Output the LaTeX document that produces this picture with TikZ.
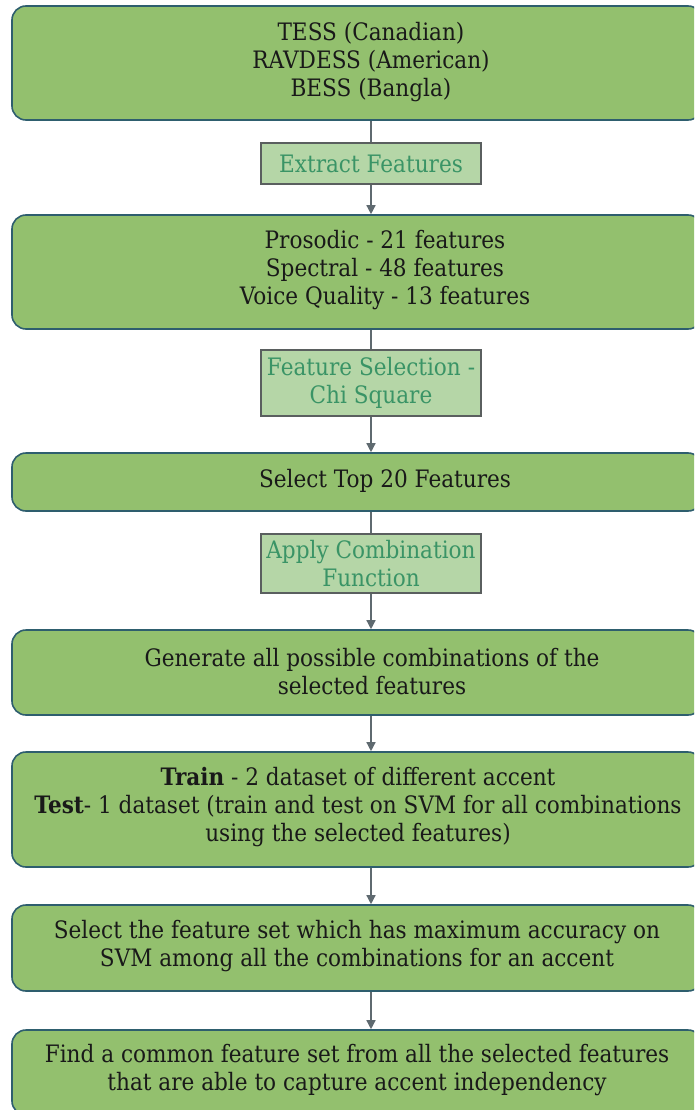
\documentclass[tikz,border=0pt]{standalone}
\usepackage{fontspec}
\setmainfont{DejaVu Serif}[FakeStretch=0.9]
\usetikzlibrary{positioning, arrows.meta}
\definecolor{boxgreen}{HTML}{93C06E}
\definecolor{boxedge}{HTML}{2E5E6E}
\definecolor{tagfill}{HTML}{B5D6A7}
\definecolor{tagedge}{HTML}{5A5F5F}
\definecolor{tagtext}{HTML}{3A9466}
\definecolor{flowgray}{HTML}{5F6A70}

\begin{document}
\begin{tikzpicture}[x=1pt,y=-1pt,>={Triangle[width=9pt,length=9pt]},
  stage/.style={draw=boxedge, line width=1.6pt, fill=boxgreen, rounded corners=14pt,
    minimum width=690pt, inner sep=0pt},
  stagetext/.style={align=center, text=black!90, inner sep=0pt,
    font=\fontsize{24}{28}\selectfont},
  tag/.style={draw=tagedge, line width=1.2pt, fill=tagfill, minimum width=220pt,
    align=center, text=tagtext, inner sep=0pt, font=\fontsize{24}{28}\selectfont},
  link/.style={draw=flowgray, line width=1.4pt},
  flow/.style={link, ->}]
  \useasboundingbox (0,0) rectangle (694,1110);
  \clip (0,0) rectangle (694,1110);

  % green stages
  \node[stage, minimum height=114pt] (src) at (357,63) {};
  \node[stage, minimum height=114pt] (feat) at (357,272) {};
  \node[stage, minimum height=58pt] (top) at (357,482) {};
  \node[stage, minimum height=85pt] (gen) at (357,672.5) {};
  \node[stage, minimum height=115pt] (train) at (357,809.5) {};
  \node[stage, minimum height=86pt] (best) at (357,948) {};
  \node[stage, minimum height=85pt] (common) at (357,1072.5) {};

  % texts of the stages
  \node[stagetext] (srctext) at (371,62) {TESS (Canadian)\\RAVDESS (American)\\BESS (Bangla)};
  \node[stagetext] (feattext) at (385,270) {Prosodic - 21 features\\Spectral - 48 features\\Voice Quality - 13 features};
  \node[stagetext] (toptext) at (385,481) {Select Top 20 Features};
  \node[stagetext] (gentext) at (372,672) {Generate all possible combinations of the\\selected features};
  \node[stagetext] (traintext) at (358,807) {\textbf{Train} - 2 dataset of different accent\\\textbf{Test}- 1 dataset (train and test on SVM for all combinations\\using the selected features)};
  \node[stagetext] (besttext) at (357,946) {Select the feature set which has maximum accuracy on\\SVM among all the combinations for an accent};
  \node[stagetext] (commontext) at (357,1070) {Find a common feature set from all the selected features\\that are able to capture accent independency};

  % light steps between stages
  \node[tag, minimum height=41pt] (extract) at (371,163.5) {Extract Features};
  \node[tag, minimum height=66pt] (chi) at (371,383) {Feature Selection -\\Chi Square};
  \node[tag, minimum height=59pt] (comb) at (371,563.5) {Apply Combination\\Function};

  % connectors
  \draw[link] (src.south -| extract.north) -- (extract.north);
  \draw[flow] (extract.south) -- (extract.south |- feat.north);
  \draw[link] (feat.south -| chi.north) -- (chi.north);
  \draw[flow] (chi.south) -- (chi.south |- top.north);
  \draw[link] (top.south -| comb.north) -- (comb.north);
  \draw[flow] (comb.south) -- (comb.south |- gen.north);
  \draw[flow] (gen.south -| comb.south) -- (comb.south |- train.north);
  \draw[flow] (train.south -| comb.south) -- (comb.south |- best.north);
  \draw[flow] (best.south -| comb.south) -- (comb.south |- common.north);
\end{tikzpicture}
\end{document}
